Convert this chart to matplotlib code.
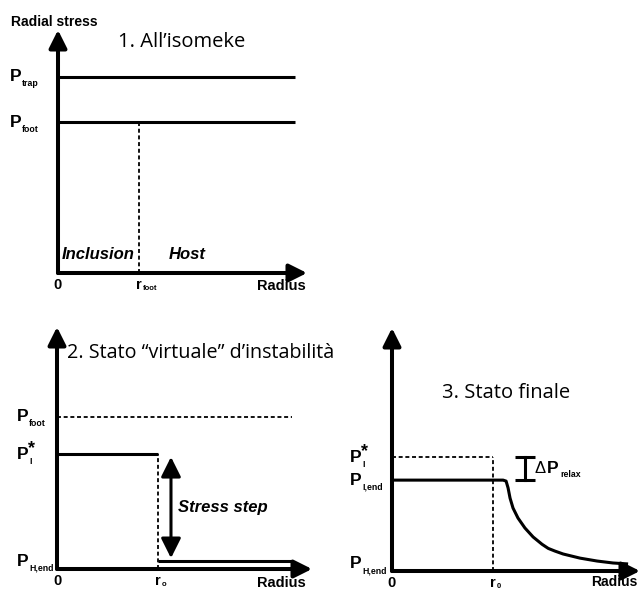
import matplotlib
matplotlib.use("Agg")
import matplotlib.pyplot as plt

W, H = 641, 590

# stress levels and radii per panel (arbitrary units, axes run 0..10)
p1_trap = 8.07
p1_foot = 6.2
p1_rfoot = 3.25
p1_end = 9.5

p2_foot = 6.3
p2_star = 4.75
p2_hend = 0.33
p2_r0 = 3.96
p2_end = 9.2
p2_step_x = 4.47

p3_star = 4.69
p3_iend = 3.74
p3_hend = 0.3
p3_r0 = 4.07
p3_bracket_x = 5.36
# relaxed stress profile: flat in the inclusion, decaying in the host
p3_curve_r = [0.0, 4.48, 4.60, 4.68, 4.76, 4.88, 5.08, 5.36, 5.69, 6.05, 6.30,
              6.57, 6.90, 7.58, 8.27, 8.91, 9.52]
p3_curve_p = [3.74, 3.74, 3.70, 3.42, 3.00, 2.59, 2.18, 1.77, 1.40, 1.10, 0.93,
              0.82, 0.70, 0.53, 0.41, 0.33, 0.29]

BOLD = dict(family="Liberation Sans", weight="bold", color="black")
TITLE = dict(family="Open Sans", color="black")
LW = 2.2
AX_LW = 2.9
DASH = dict(color="black", lw=1.3, ls=(0, (2.2, 1.5)))

fig = plt.figure(figsize=(W / 100, H / 100), dpi=100)


def make_axes(x0, y0, x1, y1):
    # x0, y0: origin pixel; x1: x arrow tip; y1: y arrow tip
    ax = fig.add_axes([x0 / W, 1 - y0 / H, (x1 - x0) / W, (y0 - y1) / H])
    ax.set_xlim(0, 10)
    ax.set_ylim(0, 10)
    ax.axis("off")
    arrow = dict(arrowstyle="-|>,head_length=0.6,head_width=0.3", color="black",
                 lw=AX_LW, shrinkA=0, shrinkB=0, mutation_scale=18)
    ax.annotate("", xy=(10, 0), xytext=(0, 0), arrowprops=arrow, annotation_clip=False)
    ax.annotate("", xy=(0, 10), xytext=(0, 0), arrowprops=arrow, annotation_clip=False)
    return ax


def txt(ax, x, y, s, dx, dy, **kw):
    kw.setdefault("ha", "left")
    kw.setdefault("va", "center")
    ax.annotate(s, (x, y), xytext=(dx, -dy), textcoords="offset pixels",
                annotation_clip=False, **kw)


def plabel(ax, y, dx, sub, star=False):
    txt(ax, 0, y, "P", dx, 0, fontsize=12.5, **BOLD)
    txt(ax, 0, y, sub, dx + 12, 7, fontsize=6.3, **BOLD)
    if star:
        txt(ax, 0, y, "*", dx + 11, -5, fontsize=13, **BOLD)


def xlabels(ax, r, rsub):
    txt(ax, 0, 0, "0", 0, 12, fontsize=10.5, ha="center", **BOLD)
    txt(ax, r, 0, "r", 0, 12, fontsize=10.5, ha="center", **BOLD)
    txt(ax, r, 0, rsub, 4, 16, fontsize=5.5, **BOLD)


# 1. initial state
ax1 = make_axes(58, 273, 307, 30)
ax1.plot([0, p1_end], [p1_trap, p1_trap], color="black", lw=LW, solid_capstyle="butt")
ax1.plot([0, p1_end], [p1_foot, p1_foot], color="black", lw=LW, solid_capstyle="butt")
ax1.plot([p1_rfoot, p1_rfoot], [0, p1_foot], **DASH)
plabel(ax1, p1_trap, -48, "trap")
plabel(ax1, p1_foot, -48, "foot")
xlabels(ax1, p1_rfoot, "foot")
txt(ax1, 10, 0, "Radius", -1, 13, fontsize=10.5, ha="right", **BOLD)
txt(ax1, 0, 10, "Radial stress", -47, -8, fontsize=10, **BOLD)
txt(ax1, 0, 10, "1. All\u2019isomeke", 60, 12, fontsize=14.5, **TITLE)
txt(ax1, 0, 0, "Inclusion", 4, -18, fontsize=12, style="italic", **BOLD)
txt(ax1, p1_rfoot, 0, "Host", 30, -18, fontsize=12, style="italic", **BOLD)

# 2. virtual instability state
ax2 = make_axes(57, 569, 312, 327)
ax2.plot([0, p2_end], [p2_foot, p2_foot], **DASH)
ax2.plot([0, p2_r0], [p2_star, p2_star], color="black", lw=LW, solid_capstyle="butt")
ax2.plot([p2_r0, p2_r0], [0, p2_star], **DASH)
ax2.plot([p2_r0, p2_end], [p2_hend, p2_hend], color="black", lw=LW, solid_capstyle="butt")
ax2.annotate("", xy=(p2_step_x, p2_hend + 0.12), xytext=(p2_step_x, p2_star - 0.12),
             arrowprops=dict(arrowstyle="<|-|>,head_length=0.6,head_width=0.3",
                             color="black", lw=LW, shrinkA=0, shrinkB=0, mutation_scale=20))
txt(ax2, p2_step_x, (p2_star + p2_hend) / 2, "Stress step", 7, 0, fontsize=12,
    style="italic", **BOLD)
plabel(ax2, p2_foot, -40, "foot")
plabel(ax2, p2_star, -40, "I", star=True)
plabel(ax2, p2_hend, -40, "H,end")
xlabels(ax2, p2_r0, "o")
txt(ax2, 10, 0, "Radius", -6, 14, fontsize=10.5, ha="right", **BOLD)
txt(ax2, 0, 10, "2. Stato \u201cvirtuale\u201d d\u2019instabilit\u00e0", 10, 26, fontsize=14.2, **TITLE)

# 3. final state
ax3 = make_axes(392, 571, 640, 328)
ax3.plot([0, p3_r0], [p3_star, p3_star], **DASH)
ax3.plot([p3_r0, p3_r0], [0, p3_star], **DASH)
ax3.plot(p3_curve_r, p3_curve_p, color="black", lw=LW, solid_capstyle="butt",
         solid_joinstyle="round")
ax3.plot([p3_bracket_x, p3_bracket_x], [p3_iend, p3_star], color="black", lw=LW)
for y in (p3_iend, p3_star):
    ax3.plot([p3_bracket_x - 0.42, p3_bracket_x + 0.42], [y, y], color="black", lw=LW,
             solid_capstyle="butt")
txt(ax3, p3_bracket_x, (p3_star + p3_iend) / 2, "\u0394", 10, 0, fontsize=12,
    family="Liberation Sans", color="black")
txt(ax3, p3_bracket_x, (p3_star + p3_iend) / 2, "P", 22, 0, fontsize=12.5, **BOLD)
txt(ax3, p3_bracket_x, (p3_star + p3_iend) / 2, "relax", 35, 6, fontsize=6.3, **BOLD)
plabel(ax3, p3_star, -42, "I", star=True)
plabel(ax3, p3_iend, -42, "I,end")
plabel(ax3, p3_hend, -42, "H,end")
xlabels(ax3, p3_r0, "0")
txt(ax3, 10, 0, "Radius", -3, 11, fontsize=10, ha="right", **BOLD)
txt(ax3, 0, 10, "3. Stato finale", 50, 65, fontsize=14.5, **TITLE)

fig.savefig("out.png", dpi=100)
